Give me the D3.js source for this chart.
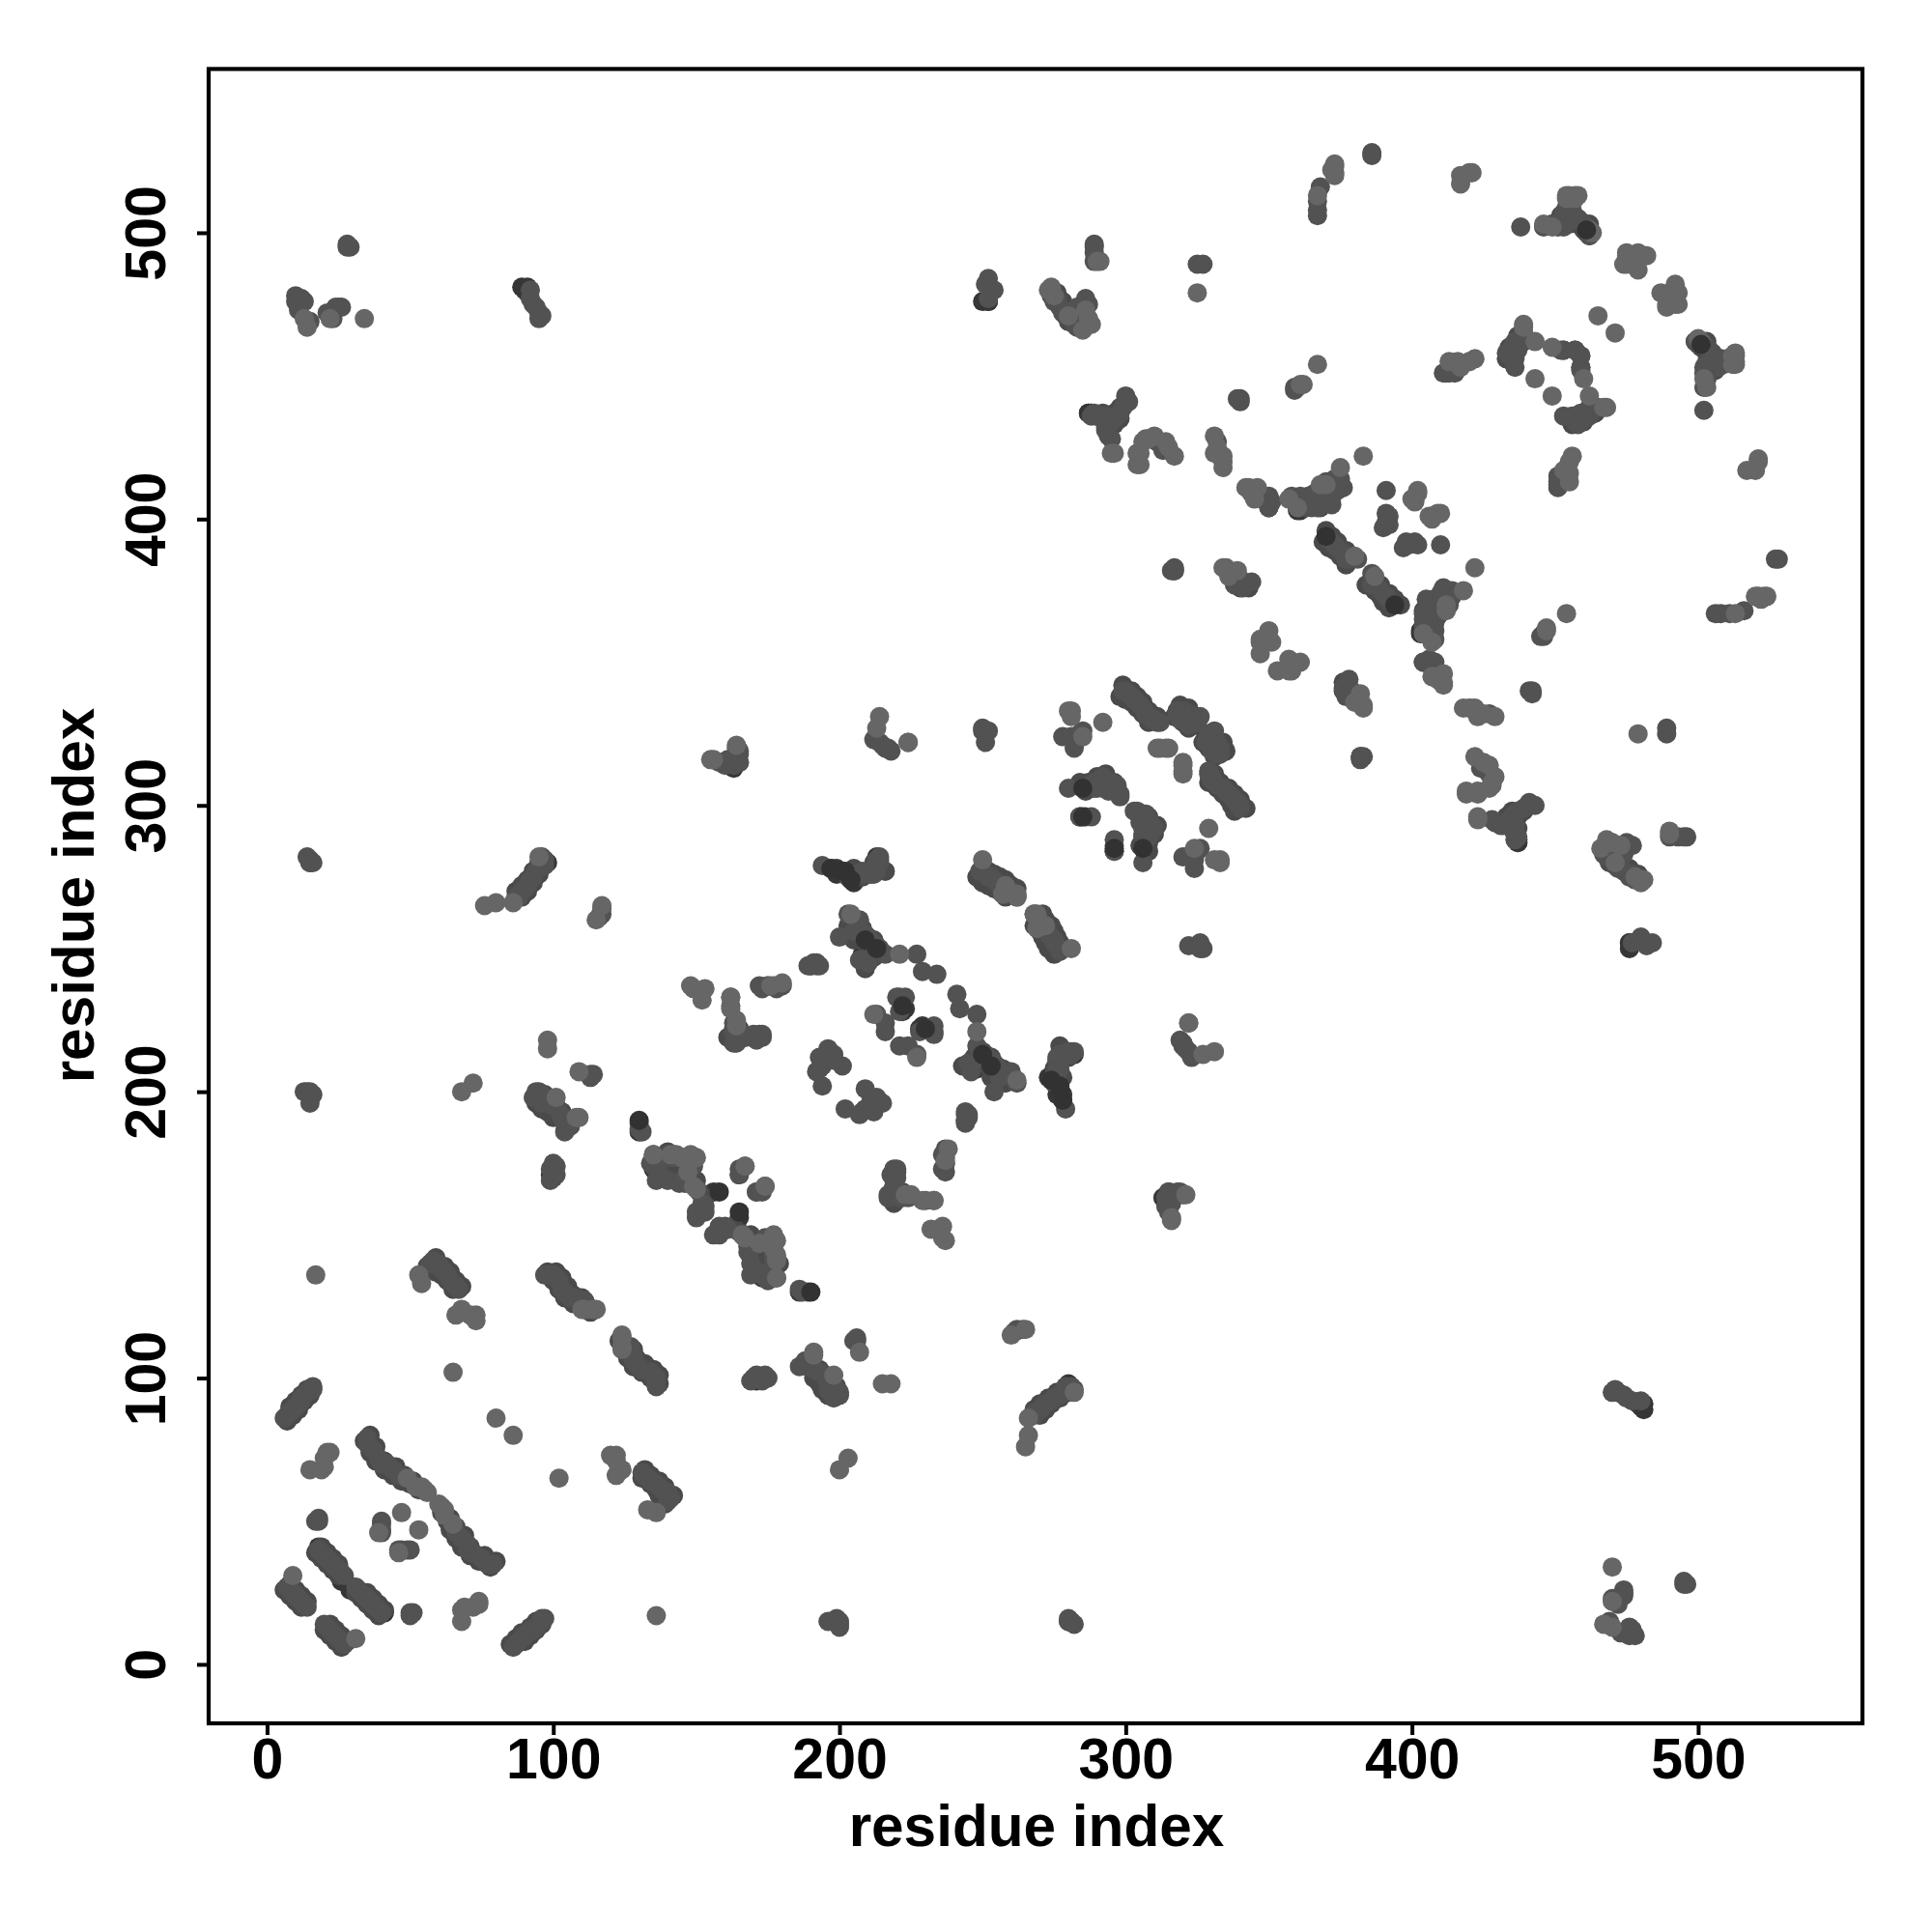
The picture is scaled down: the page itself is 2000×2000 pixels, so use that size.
<!DOCTYPE html>
<html><head><meta charset="utf-8">
<script src="https://cdn.jsdelivr.net/npm/d3@7/dist/d3.min.js"></script>
<style>html,body{margin:0;background:#fff}svg{display:block}</style></head>
<body><div id="chart"></div>
<script>
const tickValues=[0,100,200,300,400,500];
const axisTitle="residue index";
// contact pairs [i,j], i<j; the map is symmetric. Grey classes.
const contactsDarkUnder=[
[27,30],[24,33],[26,29],[7,26],[9,24],[11,22],[8,27],[18,41],[22,35],
[89,481],[90,480],[91,481],[91,480],[91,479],
[97,280],[98,280],[99,171],[100,170],[15,280],[105,130],[104,129],[101,136],
[135,176],[156,165],[173,135],[175,135],[178,135],[130,186],
[199,278],[210,251],[208,248],[223,229],[228,222],[214,278],[213,280],[213,282],
[246,209],[273,205],[276,199],
[165,315],[163,313],[250,476],[252,476],
[393,371],[317,382],[284,296],[285,306],[339,301],[340,300],
[287,437],[288,437],[404,350],[403,360],[408,364],[403,361],[361,404],[364,405],
[370,394],[437,287],[437,288],[436,290],
[462,500],[461,501],[499,462],[459,457],[453,459],[476,252]
];
const contactsBand=[
[8,28],[10,26],[12,24],[14,22],[6,26],[8,24],[10,22],[12,20],
[19,41],[21,39],[23,37],[25,35],[17,39],[19,37],[21,35],[23,33],[25,31],
[36,80],[38,76],[41,71],[45,69],[34,78],[36,74],[38,71],[41,68],[44,66],[47,64],[50,63],[53,61],[48,66],[51,64],
[59,142],[62,139],[64,137],[66,134],[68,132],[56,139],[59,137],[61,136],[63,134],[65,131],
[98,137],[101,137],[103,135],[105,132],[107,129],[110,128],[100,134],[102,131],[104,128],[107,126],[110,125],[113,123],
[250,278],[252,277],[254,276],[256,275],[258,274],[260,272],[262,271],[248,275],[250,273],[252,272],[254,271],[256,270],[258,268],
[299,342],[302,340],[304,338],[306,336],[308,333],[311,331],[298,338],[300,337],[302,336],[304,334],[306,332],[308,329],
[319,335],[322,334],[324,331],[328,325],[330,324],[317,331],[320,330],[322,329],[327,322],[329,320],
[370,396],[372,394],[374,392],[377,389],[379,387],[369,392],[371,390],[373,389],[375,387],[377,384],
[7,85],[9,87],[11,89],[13,92],[15,94],[8,90],[10,92],[12,94],[14,96],
[87,270],[89,272],[91,274],[93,277],[95,280],[89,268],[91,270],[93,273],[95,276],
[95,199],[97,199],[99,197],[101,195],[103,193],[105,190],[94,196],[96,194],[98,193],[100,191],
[292,437],[294,435],[296,437],[298,439],[294,431],[296,433],[298,435],
[284,308],[287,308],[290,310],[293,311],[296,308],[286,305],[289,306],[292,306],
[363,407],[366,407],[370,410],[373,410],[374,414],[362,406],[368,410],
[366,405],[368,404],[370,406],[372,408],[371,413],[373,411],[369,409],[364,406],[360,406],
[280,469],[283,470],[285,469],[278,476],[276,479],
[453,504],[456,505],[458,503],[460,501],[462,503],[455,508],[452,506],
[434,460],[436,459],[437,464],[433,456],[435,455],
[461,500],[458,503],[456,505],[455,503],[453,505],[449,503],[451,504],
[341,378],[343,376],[340,376],[338,381],
[163,222],[165,222],[167,219],[170,219],[161,219],
[212,247],[210,249],[212,251],[208,253],[209,243],[206,257],[208,257],
[203,258],[205,260],[210,254],[212,253],[214,250],[207,253],[205,253],
[151,165],[153,163],[147,170],[143,172],[140,172],[138,176],[139,178],[145,175],[148,170],[150,169],
[141,175],[143,174],[146,175],[147,174],[140,179],
[204,275],[210,276],[205,278],[208,275],[213,278],[212,280],[216,277]
];
const contactsMid=[
[7,27],[8,26],[9,25],[10,24],[11,23],[12,22],[13,21],[14,20],
[18,40],[19,39],[20,38],[21,37],[22,36],[23,35],[24,34],[25,33],[26,32],[27,31],
[18,51],[18,50],[17,50],[40,50],[40,49],[40,47],[40,46],
[6,86],[7,87],[8,88],[9,89],[10,90],[11,91],[12,92],[12,93],[13,94],[14,95],[15,96],[16,97],[16,96],
[35,79],[35,77],[37,75],[39,72],[40,70],[42,70],[44,68],[46,66],
[57,140],[58,141],[60,140],[61,138],[62,137],[63,136],[64,134],[65,133],[66,132],[67,131],
[97,136],[98,136],[100,136],[101,135],[102,134],[103,131],[104,130],[105,129],[106,128],[108,128],[111,127],[112,125],
[14,282],[15,281],[15,280],[16,280],[14,200],[15,200],[16,199],
[10,478],[10,476],[11,477],[12,477],[13,476],[11,473],[15,469],[24,474],[25,474],[26,474],[21,472],[23,470],
[28,495],[29,495],[28,496],[92,480],[92,477],[93,475],[94,474],[95,472],[95,470],[96,471],
[87,268],[88,268],[89,270],[90,271],[91,272],[92,274],[93,275],[94,277],[95,278],[96,280],[96,282],[97,279],[97,281],
[116,261],[117,262],[117,264],
[95,200],[96,199],[97,197],[95,197],[98,196],[100,195],[102,193],[103,191],[104,189],[104,186],[106,188],
[113,206],[113,205],[114,206],[100,175],[101,174],[99,173],[100,171],[99,169],[101,171],[93,198],[94,200],[96,196],
[130,189],[130,187],[131,186],
[135,174],[136,169],[140,169],[144,168],[146,168],[152,158],[153,160],[153,158],[150,158],[145,169],[134,175],[137,175],[135,175],[138,170],[141,177],[143,177],[147,177],
[150,156],[152,161],[165,171],[171,165],[174,167],[165,173],[149,174],
[162,230],[163,224],[163,221],[165,219],[163,217],[172,220],[173,219],[171,218],[166,220],[175,237],[190,244],[192,245],[193,244],[172,237],
[160,314],[161,315],[163,314],[165,315],[165,318],[164,317],[165,319],[158,315],[161,316],[164,320],
[203,262],[207,260],[200,254],[205,256],[209,255],[211,253],[213,251],[216,248],[209,246],[210,245],[207,246],[227,248],[229,242],[234,241],
[213,227],[216,224],[216,221],[221,228],[220,233],[223,233],[221,233],
[196,213],[198,213],[193,212],[194,209],[193,208],[194,202],[201,209],[192,207],[194,211],[198,211],[196,215],[194,212],
[192,244],[190,244],[191,245],[189,244],[180,237],[177,237],[173,236],[178,236],[175,237],
[173,220],[172,219],[170,220],[167,219],[164,217],[164,219],[165,220],[163,221],
[194,279],[197,278],[208,276],[211,276],[214,281],[214,282],
[249,277],[251,276],[253,275],[252,275],[254,274],[255,273],[256,272],[257,270],[258,269],[260,270],
[224,322],[218,319],[216,320],[214,322],[215,321],[212,323],[217,320],
[250,326],[250,327],[251,322],[251,325],[252,326],
[214,280],[213,277],[212,276],[207,276],[205,276],[203,275],[208,277],[213,281],[212,278],[204,275],
[252,484],[251,482],[254,480],[252,477],
[276,477],[277,474],[279,471],[281,470],[283,468],[285,467],[287,468],[285,472],[285,475],[287,475],[286,474],[283,474],
[289,496],[289,493],[325,489],[327,489],
[288,436],[290,436],[292,435],[293,432],[294,429],[295,434],[296,435],[297,436],[298,437],[299,439],[300,441],[300,443],[301,441],[295,428],
[332,427],[332,424],[333,422],[340,441],[340,442],
[350,408],[350,404],[351,406],[358,408],[361,408],[361,404],[364,408],[366,409],[367,404],[369,406],[371,409],[372,408],[373,412],[374,410],[376,411],[372,413],[363,405],[365,406],
[391,410],[391,402],[390,397],[392,398],[391,399],[392,401],[391,398],
[370,394],[371,393],[372,392],[373,391],[375,389],[376,388],[377,387],[378,386],[381,386],[377,386],
[375,411],[374,412],[375,414],[372,412],[370,413],[372,405],[368,408],[368,406],[367,407],[365,404],[363,404],[361,405],[359,406],[370,408],[371,410],[373,414],[369,411],
[344,378],[341,376],[338,377],[340,379],[337,381],
[317,383],[316,382],[317,382],[314,426],[313,424],[311,427],[339,442],
[289,437],[291,436],[293,436],[293,431],[294,433],
[278,324],[281,324],[283,323],[282,320],
[299,340],[300,340],[301,339],[302,338],[303,337],[304,336],[305,335],[306,334],[307,332],[308,331],[309,330],[310,330],[311,329],[312,329],
[318,333],[320,333],[322,332],[323,330],[325,329],[326,331],[329,323],[330,322],[331,321],[332,320],[333,318],[330,319],[328,322],[332,318],
[280,306],[289,308],[292,310],[291,308],[294,307],[295,306],[297,305],[298,304],[293,309],
[284,296],[286,296],[288,296],[294,305],[290,306],[298,303],[296,306],[297,307],[295,308],
[282,322],[284,325],[285,326],
[386,528],[386,527],[367,506],[367,508],[367,511],
[438,502],[451,503],[452,504],[453,505],[454,503],[454,509],[455,510],[456,507],[458,505],[459,504],[460,503],[453,507],
[439,465],[436,462],[433,458],[435,460],[434,457],[436,456],[437,461],[438,463],[453,459],[452,459],
[434,458],[437,459],[439,462],[436,453],[459,457],
[462,499],[461,501],[453,502],[451,502],[449,503],[446,502],[455,507],[456,508],
[412,451],[413,452],[414,453],[415,451],[411,451],[413,451],
[368,516],[373,521],[360,446],[359,446],[359,445],
[286,475],[286,477],[283,467],[275,476],[274,478],[282,468],[278,472],[284,467],
[289,490],[289,495],[13,200],[15,196]
];
const contactsPale=[
[9,31],[15,68],[19,68],[20,69],[20,72],[21,74],[22,74],[47,53],[39,46],[49,65],[52,62],[54,62],[55,61],[56,60],
[17,136],[53,136],[54,133],[66,122],[68,124],[71,122],[73,122],[73,120],[65,102],[80,86],
[111,124],[115,124],[110,124],[114,124],[13,470],[14,467],[22,470],[34,470],[76,265],[80,266],[86,266],[95,282],
[115,260],[117,265],[68,200],[72,203],[98,218],[98,215],[101,198],[108,191],[109,191],[109,207],
[135,178],[142,178],[145,177],[148,176],[149,167],[150,166],[143,178],[141,178],[148,178],[150,177],[147,172],[149,177],[167,174],
[149,236],[148,237],[153,236],[152,232],[162,233],[176,237],[180,238],[156,316],[155,316],[164,321],
[204,262],[221,248],[212,227],[164,223],[162,229],[162,233],[164,225],
[250,281],[258,272],[262,269],[262,268],[257,269],[268,262],
[322,224],[213,327],[214,331],[274,481],[273,480],[275,478],[291,490],[325,479],[296,423],
[304,419],[304,423],[307,428],[310,429],[314,427],[317,422],[334,418],[334,420],
[343,411],[346,411],[345,407],[368,412],[370,412],[375,418],[383,422],
[402,410],[401,406],[401,407],[402,409],[400,407],
[380,387],[357,407],[360,404],
[342,411],[344,409],[350,361],[351,357],[347,353],[347,357],[347,358],
[339,382],[335,383],[336,380],[336,382],[334,383],[334,422],[332,425],[331,423],[331,429],
[305,419],[305,423],[306,427],[308,428],[315,425],[295,423],
[281,333],[281,331],[292,329],[285,324],[312,320],[315,320],[320,314],[320,311],[280,333],
[373,523],[373,520],[367,513],[417,520],[421,521],[417,517],[420,521],
[446,503],[449,502],[454,513],[457,513],[455,513],[462,501],[463,500],
[475,492],[477,492],[479,493],[482,492],[475,489],[479,487],[478,490],[474,489],[475,493],[478,492],
[420,455],[416,455],[413,455],[417,453],[422,456],
[439,468],[443,462],[449,460],[443,449],[439,467],[465,471],
[457,512],[454,512],[458,513],
[372,522],[373,524],[367,454],[362,447],[361,447],
[288,468],[285,466],[287,470],[280,471],[274,480],[290,490],[286,473]
];
const contactsDarkTop=[
[158,165],[130,190],[201,277],[204,274],[209,253],[222,230],[250,213],[277,202],[278,197],
[394,370],[306,285],[296,285],[461,501]
];
const W=2000,H=2000;
const box={l:216,r:1928,t:71.4,b:1784};
const x=d3.scaleLinear().domain([-20.4,557.4]).range([box.l,box.r]);
const y=d3.scaleLinear().domain([-20.6,557.2]).range([box.b,box.t]);
const svg=d3.select("#chart").append("svg").attr("width",W).attr("height",H);
svg.append("rect").attr("width",W).attr("height",H).attr("fill","#fff");
const groups=[[contactsDarkUnder,"#363636"],[contactsBand,"#4a4a4a"],[contactsMid,"#525252"],[contactsPale,"#666666"],[contactsDarkTop,"#323232"]];
groups.forEach(([list,col])=>{
  const both=list.flatMap(([i,j])=>[[i,j],[j,i]]);
  svg.append("g").selectAll("circle").data(both).join("circle")
    .attr("cx",d=>x(d[0])).attr("cy",d=>y(d[1])).attr("r",10).attr("fill",col);
});
const font="'Liberation Sans',Arial,sans-serif";
const ax=svg.append("g").attr("transform",`translate(0,${box.b})`)
  .call(d3.axisBottom(x).tickValues(tickValues).tickSize(12).tickFormat(d3.format("d")));
const ay=svg.append("g").attr("transform",`translate(${box.l},0)`)
  .call(d3.axisLeft(y).tickValues(tickValues).tickSize(12).tickFormat(d3.format("d")));
[ax,ay].forEach(g=>{
  g.select(".domain").remove();
  g.selectAll(".tick line").attr("stroke","#000").attr("stroke-width",4);
  g.selectAll("text").attr("fill","#000").attr("font-family",font).attr("font-weight",700).attr("font-size",59);
});
ax.selectAll("text").attr("dy",null).attr("y",57);
ay.selectAll("text").attr("x",null).attr("dy",null)
  .attr("text-anchor","middle").attr("transform","translate(-45,0) rotate(-90)");
svg.append("rect").attr("x",box.l).attr("y",box.t).attr("width",box.r-box.l).attr("height",box.b-box.t)
  .attr("fill","none").attr("stroke","#000").attr("stroke-width",4.2);
svg.append("text").attr("x",1073).attr("y",1911).attr("text-anchor","middle").text(axisTitle)
  .attr("font-family",font).attr("font-weight",700).attr("font-size",60.3);
svg.append("text").attr("transform","translate(97,927) rotate(-90)").attr("text-anchor","middle").text(axisTitle)
  .attr("font-family",font).attr("font-weight",700).attr("font-size",60.3);
</script></body></html>
